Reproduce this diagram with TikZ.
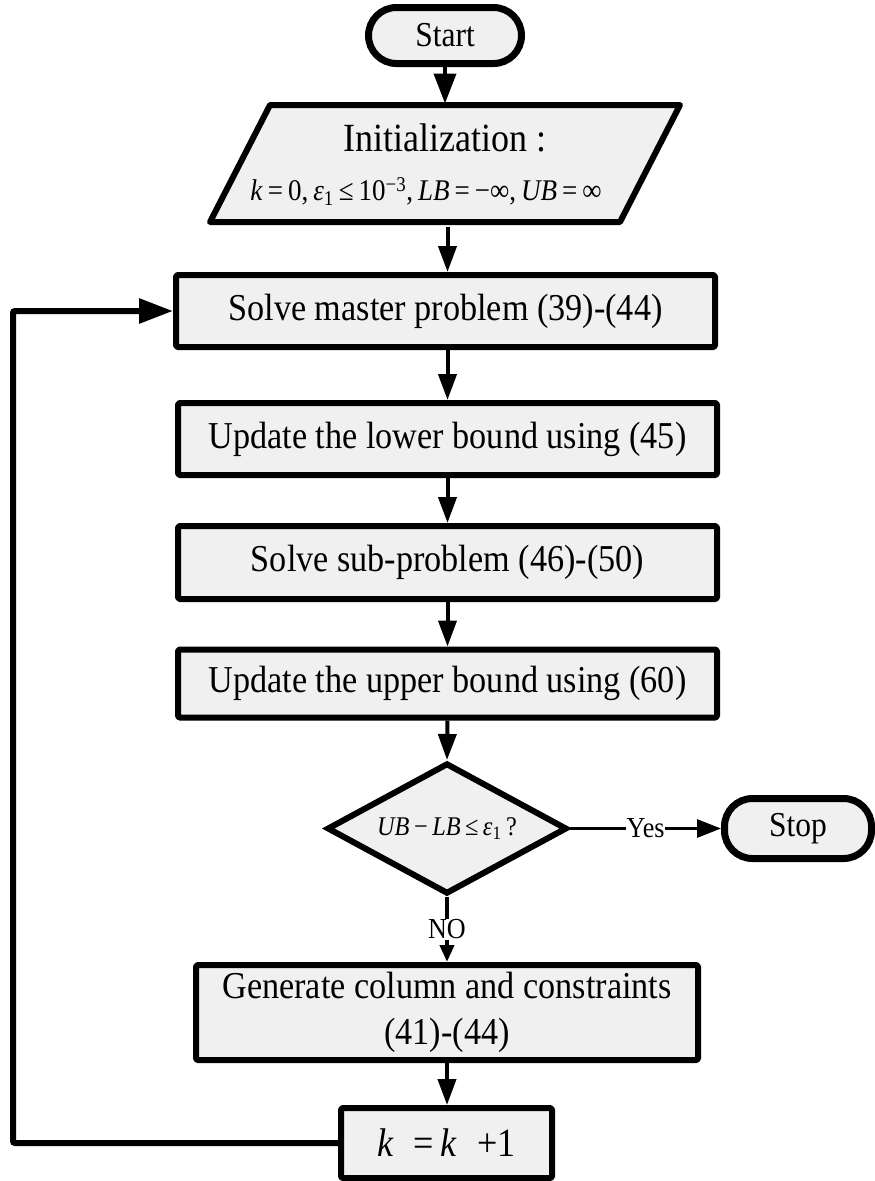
\documentclass[tikz,border=0pt]{standalone}
\usepackage{fontspec}
\setmainfont{Liberation Serif}[FakeStretch=0.9]
\usetikzlibrary{arrows.meta,shapes.geometric}
\definecolor{boxgray}{HTML}{F0F0F0}
\newcommand{\fsz}[1]{\fontsize{#1}{#1}\selectfont}
\tikzset{
  proc/.style={draw, line width=6pt, fill=boxgray, inner sep=0pt, font=\fsz{38}, line join=round, rounded corners=1.5pt},
  term/.style={draw, line width=7pt, fill=boxgray, inner sep=0pt, font=\fsz{35}, rounded corners=28pt},
  decision/.style={draw, diamond, line width=6pt, fill=boxgray, inner sep=0pt, aspect=1.8, font=\fsz{27}, line join=miter},
  conn/.style={line width=4pt, -{Triangle[length=26pt,width=18pt]}},
  thinconn/.style={line width=3pt, -{Triangle[length=24pt,width=18pt]}},
  loopconn/.style={line width=6pt, rounded corners=2pt, -{Triangle[length=34pt,width=24pt]}},
  lab/.style={fill=white, inner sep=1pt, font=\fsz{29}}
}
\begin{document}
\begin{tikzpicture}[x=1pt,y=-1pt]
\path[use as bounding box] (0,0) rectangle (875,1181);

% Start
\node[term, minimum width=153pt, minimum height=56pt] (start) at (445,35.5) {Start};

% Initialization parallelogram
\draw[line width=6pt, fill=boxgray, line join=round] (210,222) -- (270,105) -- (680,105) -- (620,222) -- cycle;
\node[inner sep=0pt, outer sep=0pt, minimum width=400pt, minimum height=123pt, align=center] (init) at (445,165)
  {{\fsz{40}Initialization :}\\[24pt]
   {\fsz{30}\textit{k}\,=\,0,\,\textit{ε}\textsubscript{1}\,≤\,10\textsuperscript{−3},\,\textit{LB}\,=\,−∞,\,\textit{UB}\,=\,∞\hspace*{38pt}}};

% Process boxes
\node[proc, minimum width=539pt, minimum height=72pt] (master) at (445.5,311) {Solve master problem (39)-(44)};
\node[proc, minimum width=539pt, minimum height=72pt] (lower) at (447.5,439) {Update the lower bound using (45)};
\node[proc, minimum width=539pt, minimum height=73pt] (sub) at (447.5,562.5) {Solve sub-problem (46)-(50)};
\node[proc, minimum width=539pt, minimum height=68pt] (upper) at (447.5,683.5) {Update the upper bound using (60)};

% Decision
\node[decision, minimum width=240pt, minimum height=131pt] (dec) at (447,828.5)
  {\textit{UB}\,−\,\textit{LB}\,≤\,\textit{ε}\textsubscript{1}\,?};

% Stop
\node[term, minimum width=147pt, minimum height=60pt] (stop) at (798,828.5) {Stop};

% Generate box
\node[proc, minimum width=502pt, minimum height=95pt, align=center] (gen) at (447,1012.5)
  {Generate column and constraints\\[8pt](41)-(44)};

% k = k + 1
\node[proc, minimum width=211pt, minimum height=70pt, font=\fsz{40}] (inc) at (446.5,1143)
  {\textit{k}\enspace=\thinspace\textit{k}\enspace+1};

% Connectors
\draw[conn, -{Triangle[length=30pt,width=22pt]}] (start.south) -- (start.south |- init.north);
\draw[conn] (init.south -| lower.north) -- (lower.north |- master.north);
\draw[conn] (lower.north |- master.south) -- (lower.north);
\draw[conn] (lower.south) -- (sub.north);
\draw[conn] (sub.south) -- (upper.north);
\draw[conn] (upper.south) -- (dec.north);
\draw[thinconn] (dec.east) -- (stop.west) node[lab, midway] (yes) {Yes};
\draw[line width=4pt, -{Triangle[length=17pt,width=14pt]}] (dec.south) -- (gen.north) node[lab, midway] (no) {NO};
\draw[conn] (gen.south) -- (gen.south |- inc.north);

\coordinate (lc) at (13,0);
\draw[loopconn] (inc.west) -- (inc.west -| lc) -- (master.west -| lc) -- (master.west);
\end{tikzpicture}
\end{document}
